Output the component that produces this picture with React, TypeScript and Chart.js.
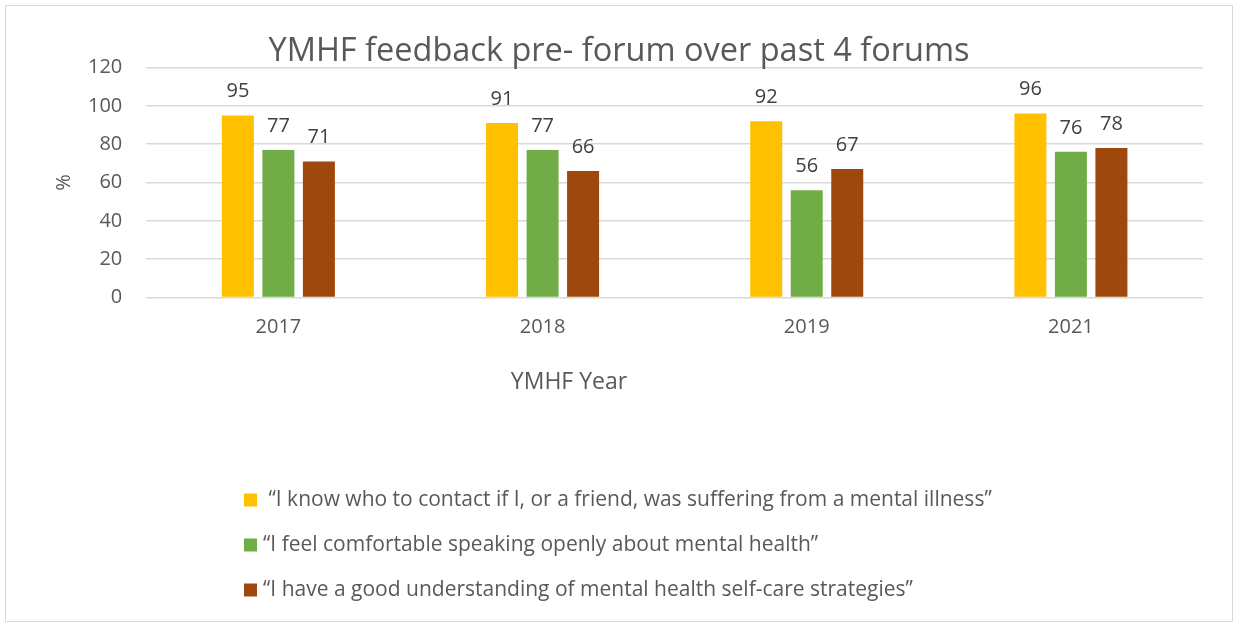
import React, { useEffect, useRef } from "react";
import { Chart, registerables } from "chart.js";

Chart.register(...registerables);

const years = ["2017", "2018", "2019", "2021"];
const seriesNames = [
  " \u201cI know who to contact if I, or a friend, was suffering from a mental illness\u201d",
  "\u201cI feel comfortable speaking openly about mental health\u201d",
  "\u201cI have a good understanding of mental health self-care strategies\u201d",
];
const knowWhoToContact = [95, 91, 92, 96];
const comfortableSpeaking = [77, 77, 56, 76];
const understandSelfCare = [71, 66, 67, 78];
const seriesColors = ["#FFC000", "#70AD47", "#9E480E"];
const yMin = 0;
const yMax = 120;
const yStep = 20;
const chartTitle = "YMHF feedback pre- forum over past 4 forums";
const xTitle = "YMHF Year";
const yTitle = "%";

const FONT = "'Open Sans', sans-serif";
const TEXT = "#595959";

const dataLabelPlugin = {
  id: "dataLabels",
  afterDatasetsDraw(chart: any) {
    const ctx = chart.ctx;
    ctx.save();
    ctx.font = `20px ${FONT}`;
    ctx.fillStyle = "#404040";
    ctx.textAlign = "center";
    ctx.textBaseline = "middle";
    chart.data.datasets.forEach((ds: any, i: number) => {
      const meta = chart.getDatasetMeta(i);
      meta.data.forEach((el: any, j: number) => {
        ctx.fillText(String(ds.data[j]), el.x, el.y - 24);
      });
    });
    ctx.restore();
  },
};

const extrasPlugin = {
  id: "extras",
  afterDraw(chart: any) {
    const ctx = chart.ctx;
    ctx.save();
    ctx.fillStyle = TEXT;
    ctx.textAlign = "center";
    ctx.textBaseline = "middle";
    // chart title (centred on the whole chart box)
    ctx.font = `32.5px ${FONT}`;
    ctx.fillText(chartTitle, chart.width / 2, 45.25);
    // x axis title
    ctx.font = `23px ${FONT}`;
    ctx.fillText(xTitle, 563, 376);
    // legend
    ctx.font = `21px ${FONT}`;
    const rows = [494, 539, 584];
    chart.data.datasets.forEach((ds: any, i: number) => {
      const y = rows[i];
      ctx.fillStyle = ds.backgroundColor;
      ctx.fillRect(238, y - 6.5, 13, 13);
      ctx.fillStyle = TEXT;
      ctx.textAlign = "left";
      ctx.fillText(ds.label, 257, y);
    });
    ctx.restore();
  },
};

export default function App() {
  const ref = useRef<HTMLCanvasElement | null>(null);
  useEffect(() => {
    if (!ref.current) return;
    const chart = new Chart(ref.current, {
      type: "bar",
      data: {
        labels: years,
        datasets: [knowWhoToContact, comfortableSpeaking, understandSelfCare].map((d, i) => ({
          label: seriesNames[i],
          data: d,
          backgroundColor: seriesColors[i],
          borderWidth: 0,
          barPercentage: 0.79,
          categoryPercentage: 0.46,
        })),
      },
      options: {
        animation: false,
        responsive: true,
        maintainAspectRatio: false,
        layout: { padding: { left: 46, right: 29, top: 61.5, bottom: 263.5 } },
        plugins: {
          legend: { display: false },
          tooltip: { enabled: false },
          title: { display: false },
        },
        scales: {
          x: {
            grid: { display: false, drawTicks: false },
            border: { display: false },
            ticks: { color: TEXT, font: { family: FONT, size: 20 }, padding: 18 },
          },
          y: {
            min: yMin,
            max: yMax,
            ticks: { stepSize: yStep, color: TEXT, font: { family: FONT, size: 20 }, padding: 24 },
            grid: { color: "#d9d9d9", lineWidth: 1.5, drawTicks: false },
            border: { display: false },
            title: {
              display: true,
              text: yTitle,
              color: TEXT,
              font: { family: FONT, size: 20 },
              padding: { top: 0, bottom: -12 },
            },
          },
        },
      },
      plugins: [dataLabelPlugin, extrasPlugin],
    });
    return () => chart.destroy();
  }, []);
  return (
    <div
      style={{
        position: "absolute",
        left: 5,
        top: 5,
        width: 1228,
        height: 617,
        boxSizing: "border-box",
        border: "1px solid #d9d9d9",
        background: "#fff",
      }}
    >
      <div style={{ position: "relative", width: 1226, height: 615 }}>
        <canvas ref={ref} />
      </div>
    </div>
  );
}
